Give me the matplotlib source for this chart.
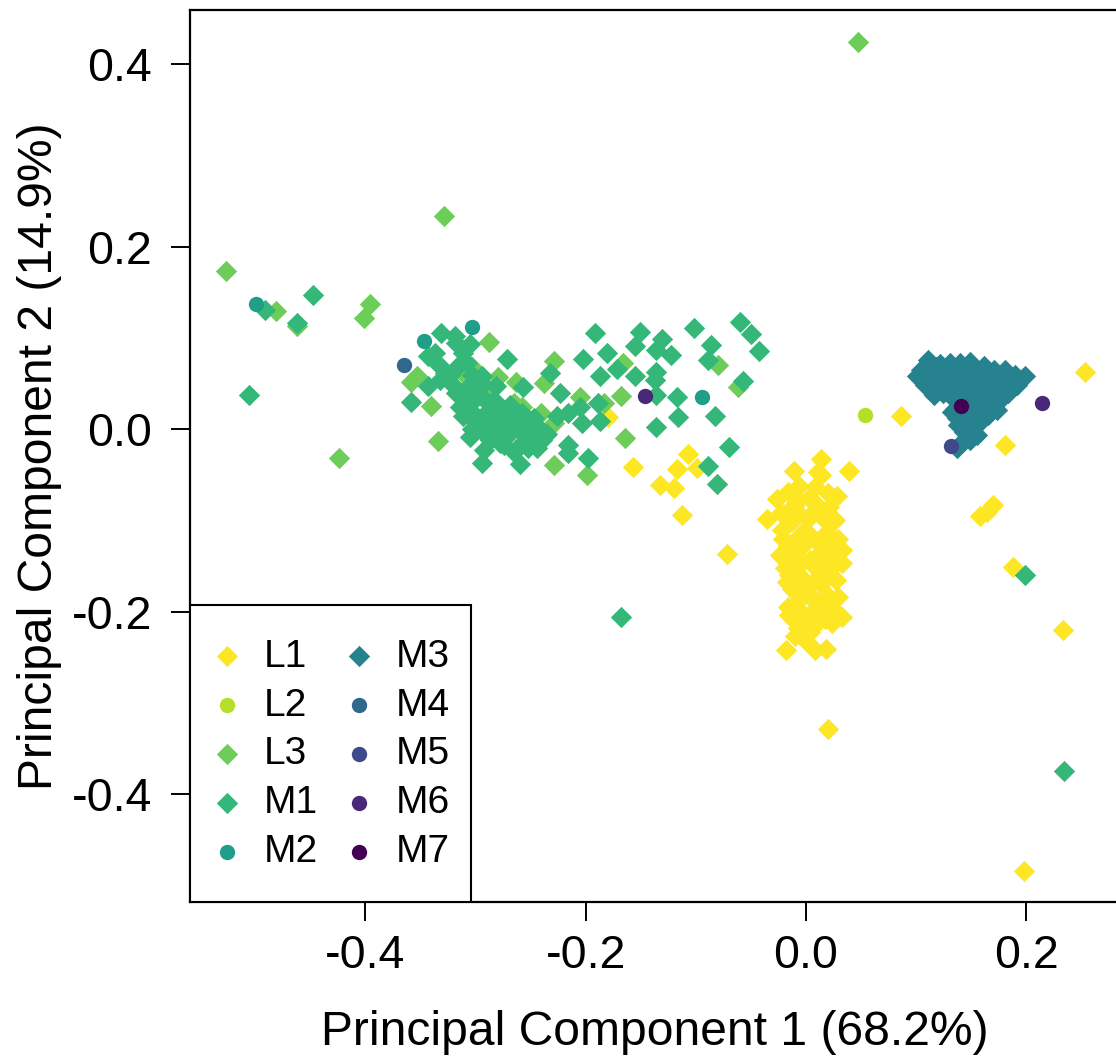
import matplotlib
matplotlib.use("Agg")
import matplotlib.pyplot as plt
from matplotlib.patches import Rectangle

plt.rcParams['font.family'] = ['Liberation Sans', 'DejaVu Sans']

x_label = "Principal Component 1 (68.2%)"
y_label = "Principal Component 2 (14.9%)"
x_ticks = [-0.4, -0.2, 0.0, 0.2]
y_ticks = [-0.4, -0.2, 0.0, 0.2, 0.4]

L1_x = [-0.180,-0.157,-0.107,-0.117,-0.099,-0.133,-0.120,-0.113,0.253,0.086,0.181,0.170,0.164,0.158,0.188,0.233,0.020,0.198,-0.072,
        -0.011,0.014,0.039,0.011,0.028,0.020,-0.026,-0.016,-0.035,0.026,-0.022,0.033,-0.024,0.033,0.029,0.033,0.024,-0.018,0.008,0.018,-0.010,-0.017,-0.019,-0.016,-0.013,
        0.014,0.008,-0.006,-0.006,0.008,0.017,-0.015,-0.001,-0.010,0.008,0.020,-0.010,0.004,0.017,-0.006,0.008,0.021,-0.010,0.004,0.017,-0.006,0.008,-0.003,0.008,-0.001,
        -0.021,-0.013,0.002,0.019,0.029,-0.016,-0.004,0.014,0.026,-0.019,-0.007,0.009,0.023,-0.015,-0.001,0.014,0.027,-0.013,0.001,0.019,-0.009,0.011,0.024,-0.015,0.002,0.017,-0.007,0.004,-0.011,0.003,-0.006,0.009,0.021,-0.023]
L1_y = [0.013,-0.041,-0.027,-0.044,-0.042,-0.061,-0.064,-0.094,0.063,0.015,-0.017,-0.083,-0.091,-0.095,-0.151,-0.220,-0.328,-0.484,-0.137,
        -0.046,-0.033,-0.046,-0.047,-0.073,-0.070,-0.076,-0.069,-0.098,-0.099,-0.110,-0.132,-0.138,-0.147,-0.184,-0.206,-0.212,-0.242,-0.242,-0.241,-0.226,-0.167,-0.152,-0.195,-0.207,
        -0.050,-0.063,-0.077,-0.093,-0.088,-0.099,-0.088,-0.110,-0.121,-0.121,-0.127,-0.138,-0.143,-0.149,-0.160,-0.165,-0.160,-0.176,-0.182,-0.187,-0.198,-0.200,-0.214,-0.214,-0.231,
        -0.120,-0.100,-0.098,-0.112,-0.120,-0.128,-0.128,-0.134,-0.140,-0.143,-0.150,-0.152,-0.152,-0.160,-0.168,-0.170,-0.165,-0.175,-0.180,-0.182,-0.190,-0.192,-0.196,-0.204,-0.205,-0.208,-0.218,-0.222,-0.085,-0.075,-0.062,-0.082,-0.085,-0.092]

L2_x = [0.054]
L2_y = [0.016]

L3_x = [0.047,-0.329,-0.527,-0.481,-0.396,-0.401,-0.462,-0.424,-0.334,-0.288,-0.340,-0.353,-0.359,-0.229,-0.238,-0.263,-0.258,-0.265,-0.241,-0.229,-0.205,-0.229,-0.199,-0.292,-0.280,-0.310,-0.303,-0.183,-0.168,-0.166,-0.164,-0.080,-0.062]
L3_y = [0.424,0.234,0.173,0.130,0.137,0.122,0.113,-0.031,-0.013,0.096,0.025,0.058,0.052,0.075,0.051,0.052,0.024,0.029,0.018,0.007,0.035,-0.039,-0.050,0.040,0.057,0.060,0.068,0.029,0.036,0.073,-0.009,0.070,0.046]

M1_x = [-0.448,-0.491,-0.462,-0.506,-0.331,-0.319,-0.305,-0.337,-0.343,-0.308,-0.271,-0.328,-0.332,-0.343,-0.359,-0.232,-0.257,-0.223,-0.202,-0.294,-0.281,-0.312,-0.314,-0.305,-0.294,-0.292,-0.260,-0.278,-0.244,-0.226,-0.216,-0.205,-0.203,-0.216,-0.216,-0.198,
        -0.192,-0.181,-0.187,-0.172,-0.151,-0.155,-0.131,-0.136,-0.123,-0.102,-0.086,-0.089,-0.060,-0.050,-0.043,-0.057,-0.155,-0.136,-0.137,-0.136,-0.117,-0.116,-0.136,-0.083,-0.070,-0.089,-0.081,-0.189,-0.187,-0.168,0.199,0.234,
        -0.296,-0.283,-0.269,-0.305,-0.292,-0.278,-0.265,-0.251,-0.296,-0.283,-0.269,-0.256,-0.241,-0.287,-0.274,-0.260,-0.246,-0.301,
        -0.308,-0.293,-0.303,-0.288,-0.273,-0.258,-0.247,-0.311,-0.298,-0.283,-0.275,-0.261,-0.247,-0.235,-0.291,-0.273,-0.252,-0.265,-0.240,-0.303,-0.318,-0.323,-0.315,-0.321,-0.303,-0.311,-0.318,-0.333,-0.300,-0.283]
M1_y = [0.147,0.131,0.116,0.038,0.106,0.102,0.093,0.084,0.080,0.073,0.077,0.062,0.054,0.047,0.030,0.062,0.046,0.040,0.077,0.058,0.047,0.036,0.024,-0.008,-0.037,-0.023,-0.038,-0.015,-0.020,0.015,0.018,0.024,0.007,-0.017,-0.026,-0.031,
        0.105,0.084,0.058,0.066,0.107,0.091,0.099,0.087,0.081,0.111,0.092,0.076,0.118,0.104,0.086,0.053,0.058,0.063,0.054,0.038,0.035,0.013,0.003,0.015,-0.019,-0.040,-0.060,0.029,0.009,-0.206,-0.160,-0.374,
        0.038,0.032,0.027,0.021,0.016,0.013,0.010,0.005,0.002,-0.003,-0.003,-0.006,-0.001,-0.012,-0.017,-0.017,-0.012,0.010,
        0.045,0.050,0.030,0.028,0.020,0.018,0.012,0.015,0.010,0.005,0.008,0.000,-0.005,-0.005,-0.005,-0.010,-0.020,-0.025,-0.012,0.000,0.040,0.060,0.070,0.050,0.060,0.084,0.095,0.070,0.044,0.020]

M2_x = [-0.499,-0.347,-0.303,-0.094]
M2_y = [0.137,0.097,0.112,0.035]

M3_x = [0.111,0.104,0.101,0.108,0.116,0.122,0.131,0.140,0.149,0.162,0.171,0.181,0.190,0.199,0.192,0.183,0.176,0.173,0.165,
        0.117,0.126,0.135,0.144,0.153,0.162,0.171,0.181,0.126,0.135,0.144,0.153,0.162,0.171,0.135,0.144,0.153,0.162,0.137,0.133,0.142,0.151,0.160,0.138,0.147,0.143,
        0.137,0.141,0.149,0.155,
        0.118,0.128,0.138,0.148,0.158,0.168,0.178,0.188,0.112,0.120,0.130,0.140,0.150,0.160,0.170,0.180,0.115,0.124,0.140,0.150,0.160,0.170,0.145,0.155,0.165,0.135,0.145,0.155,0.137]
M3_y = [0.076,0.065,0.058,0.049,0.038,0.072,0.073,0.073,0.074,0.069,0.065,0.065,0.060,0.058,0.049,0.040,0.032,0.021,0.016,
        0.060,0.060,0.060,0.060,0.057,0.057,0.054,0.052,0.046,0.046,0.046,0.043,0.043,0.041,0.032,0.032,0.030,0.030,0.023,0.019,0.019,0.016,0.010,0.005,0.002,-0.003,
        -0.020,-0.015,-0.012,-0.006,
        0.068,0.066,0.066,0.066,0.064,0.060,0.058,0.054,0.056,0.052,0.052,0.052,0.050,0.050,0.048,0.046,0.045,0.040,0.040,0.038,0.036,0.034,0.024,0.024,0.024,0.022,0.010,0.006,0.012]

M4_x = [-0.365]
M4_y = [0.071]
M5_x = [0.132]
M5_y = [-0.018]
M6_x = [0.214,-0.146]
M6_y = [0.029,0.037]
M7_x = [0.141]
M7_y = [0.025]

series = [("L1", L1_x, L1_y, "#FDE725", "D"),
          ("L2", L2_x, L2_y, "#B5DE2B", "o"),
          ("L3", L3_x, L3_y, "#6DCD59", "D"),
          ("M1", M1_x, M1_y, "#35B779", "D"),
          ("M2", M2_x, M2_y, "#1F9E89", "o"),
          ("M3", M3_x, M3_y, "#26828E", "D"),
          ("M4", M4_x, M4_y, "#31688E", "o"),
          ("M5", M5_x, M5_y, "#3E4A89", "o"),
          ("M6", M6_x, M6_y, "#482878", "o"),
          ("M7", M7_x, M7_y, "#440154", "o")]

fig = plt.figure(figsize=(11.16, 10.59), dpi=100)
ax = fig.add_axes([190/1116, 1-902/1059, (1118-190)/1116, (902-10)/1059])

for name, xs, ys, col, mk in series:
    ax.scatter(xs, ys, s=(118 if mk == "D" else 122), c=col, marker=mk, linewidths=0, label=name, zorder=3)

ax.set_xlim((190-806)/1101.5, (1118-806)/1101.5)
ax.set_ylim((429.3-902)/912.5, (429.3-10)/912.5)
ax.set_xticks(x_ticks)
ax.set_yticks(y_ticks)
ax.set_xticklabels([f"{v:.1f}" for v in x_ticks])
ax.set_yticklabels([f"{v:.1f}" for v in y_ticks])
ax.tick_params(axis='both', labelsize=33.5, length=14, width=1.4, color='black')
ax.tick_params(axis='y', pad=13.5)
ax.tick_params(axis='x', pad=9)
for sp in ax.spines.values():
    sp.set_linewidth(1.6)
    sp.set_color('black')
ax.set_xlabel(x_label, fontsize=34.6, labelpad=23)
ax.xaxis.set_label_coords((655-190)/928, -0.0, transform=None) if False else None
ax.xaxis.label.set_x((655-190)/928)
ax.set_ylabel(y_label, fontsize=34.6, labelpad=7)

ax.add_patch(Rectangle((0, 0), 281/928, 297/892, transform=ax.transAxes, facecolor='white',
                       edgecolor='black', linewidth=1.5, zorder=4))
leg = ax.legend(ncol=2, loc='lower left', bbox_to_anchor=(18/928, 32/892), borderaxespad=0,
                fontsize=28, frameon=False, scatterpoints=1, labelspacing=0.33,
                handletextpad=0.44, columnspacing=0.56, handlelength=1.0,
                borderpad=0)
leg.set_zorder(5)

fig.savefig("out.png", dpi=100)
